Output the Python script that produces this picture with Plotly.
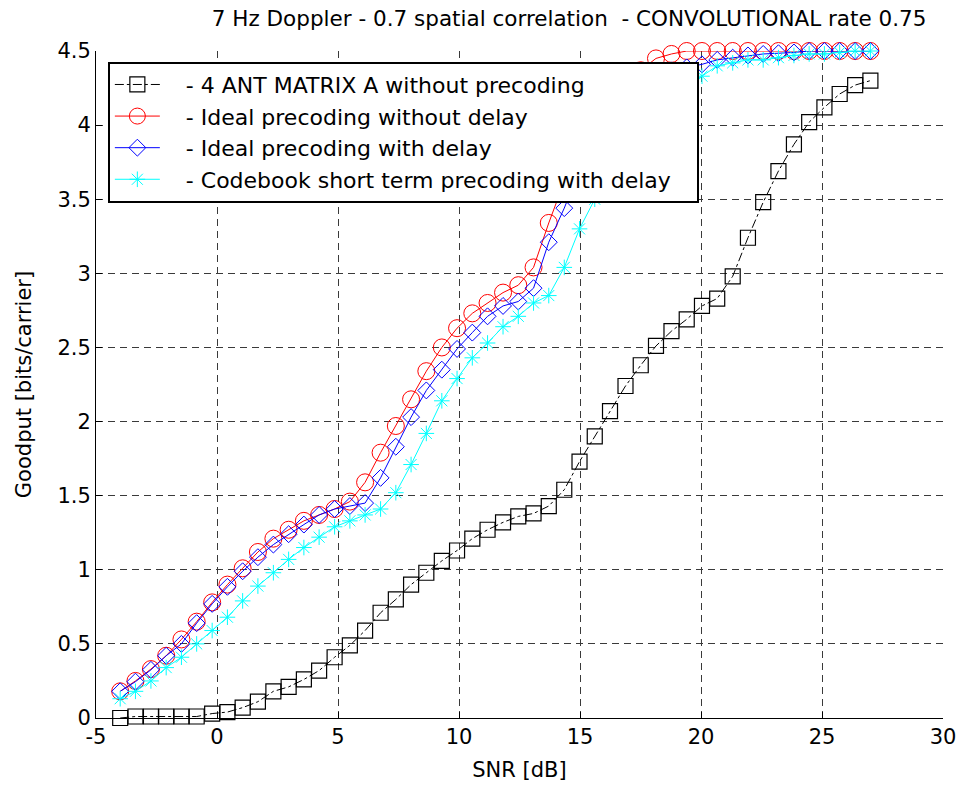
import plotly.graph_objects as go

# SNR values [dB]
snr = [-4.00, -3.37, -2.73, -2.10, -1.47, -0.84, -0.20, 0.43, 1.06, 1.69,
       2.33, 2.96, 3.59, 4.22, 4.86, 5.49, 6.12, 6.76, 7.39, 8.02,
       8.65, 9.29, 9.92, 10.55, 11.18, 11.82, 12.45, 13.08, 13.71, 14.35,
       14.98, 15.61, 16.24, 16.88, 17.51, 18.14, 18.78, 19.41, 20.04, 20.67,
       21.31, 21.94, 22.57, 23.20, 23.84, 24.47, 25.10, 25.73, 26.37, 27.00]

ant4_no_precoding = [0.00, 0.01, 0.01, 0.01, 0.01, 0.01, 0.03, 0.04, 0.07, 0.11,
                     0.18, 0.21, 0.26, 0.32, 0.41, 0.49, 0.59, 0.71, 0.80, 0.90,
                     0.98, 1.06, 1.13, 1.21, 1.27, 1.32, 1.36, 1.38, 1.43, 1.54,
                     1.73, 1.90, 2.07, 2.24, 2.38, 2.51, 2.61, 2.69, 2.78, 2.83,
                     2.98, 3.24, 3.48, 3.69, 3.87, 4.02, 4.12, 4.21, 4.27, 4.30]

ideal_no_delay = [0.18, 0.25, 0.33, 0.42, 0.53, 0.65, 0.78, 0.90, 1.01, 1.12,
                  1.21, 1.27, 1.33, 1.37, 1.41, 1.46, 1.59, 1.79, 1.97, 2.15,
                  2.34, 2.50, 2.63, 2.73, 2.80, 2.87, 2.92, 3.04, 3.34, 3.62,
                  3.88, 4.07, 4.20, 4.30, 4.37, 4.45, 4.48, 4.50, 4.50, 4.50,
                  4.50, 4.50, 4.50, 4.50, 4.50, 4.50, 4.50, 4.50, 4.50, 4.50]

ideal_delay = [0.18, 0.245, 0.325, 0.42, 0.50, 0.64, 0.77, 0.885, 0.99, 1.085,
               1.17, 1.24, 1.305, 1.37, 1.41, 1.43, 1.45, 1.62, 1.83, 2.03,
               2.21, 2.35, 2.49, 2.60, 2.71, 2.78, 2.81, 2.90, 3.21, 3.44,
               3.70, 3.92, 4.08, 4.20, 4.28, 4.33, 4.37, 4.39, 4.41, 4.44,
               4.455, 4.47, 4.48, 4.485, 4.49, 4.50, 4.50, 4.50, 4.50, 4.50]

codebook_delay = [0.13, 0.18, 0.25, 0.34, 0.41, 0.50, 0.59, 0.68, 0.79, 0.89,
                  0.98, 1.07, 1.15, 1.22, 1.29, 1.33, 1.37, 1.41, 1.52, 1.71,
                  1.92, 2.14, 2.29, 2.43, 2.53, 2.64, 2.71, 2.80, 2.85, 3.04,
                  3.30, 3.50, 3.70, 3.88, 4.02, 4.13, 4.22, 4.28, 4.33, 4.40,
                  4.42, 4.44, 4.44, 4.455, 4.47, 4.48, 4.48, 4.49, 4.50, 4.50]

names = ["- 4 ANT MATRIX A without precoding",
         "- Ideal precoding without delay",
         "- Ideal precoding with delay",
         "- Codebook short term precoding with delay"]

x_ticks = [-5, 0, 5, 10, 15, 20, 25, 30]
y_ticks = [0, 0.5, 1, 1.5, 2, 2.5, 3, 3.5, 4, 4.5]

FONT = "DejaVu Sans, Liberation Sans, Arial, sans-serif"
PAD = "   "
TAIL = "   "

fig = go.Figure()
fig.add_trace(go.Scatter(
    x=snr, y=ant4_no_precoding, name=PAD + names[0], mode="lines+markers",
    line=dict(color="black", width=1, dash="dashdot"),
    marker=dict(symbol="square-open", size=15, color="black", line=dict(width=1.2)),
    cliponaxis=False))
fig.add_trace(go.Scatter(
    x=snr, y=ideal_no_delay, name=PAD + names[1], mode="lines+markers",
    line=dict(color="#ff0000", width=1),
    marker=dict(symbol="circle-open", size=17, color="#ff0000", line=dict(width=1)),
    cliponaxis=False))
fig.add_trace(go.Scatter(
    x=snr, y=ideal_delay, name=PAD + names[2], mode="lines+markers",
    line=dict(color="#0000ff", width=1),
    marker=dict(symbol="diamond-open", size=13, color="#0000ff", line=dict(width=1)),
    cliponaxis=False))
fig.add_trace(go.Scatter(
    x=snr, y=codebook_delay, name=PAD + names[3] + TAIL, mode="lines+markers",
    line=dict(color="#00ffff", width=1),
    marker=dict(symbol="asterisk-open", size=13, color="#00ffff", line=dict(width=1, color="#00ffff")),
    cliponaxis=False))

grid = dict(showgrid=True, gridcolor="#3a3a3a", gridwidth=1, griddash="7px,5px")

fig.update_layout(
    width=958, height=790,
    margin=dict(l=96, r=15, t=51, b=72, autoexpand=False),
    paper_bgcolor="white", plot_bgcolor="white",
    font=dict(family=FONT, color="black", size=21),
    title=dict(text="7 Hz Doppler - 0.7 spatial correlation  - CONVOLUTIONAL rate 0.75",
               x=0.594, xanchor="center", y=0.977, yanchor="middle",
               font=dict(size=21.5, family=FONT, color="black")),
    xaxis=dict(range=[-5, 30], tickvals=x_ticks, ticktext=[str(v) for v in x_ticks],
               ticks="inside", ticklen=6, tickcolor="black", showline=True,
               linecolor="black", linewidth=1, zeroline=False, automargin=False,
               tickfont=dict(size=21), title=dict(text="SNR [dB]", font=dict(size=21), standoff=14),
               **grid),
    yaxis=dict(range=[0, 4.5], tickvals=y_ticks, ticktext=[("%g" % v) for v in y_ticks],
               ticks="inside", ticklen=6, tickcolor="black", showline=True,
               linecolor="black", linewidth=1, zeroline=False, automargin=False,
               tickfont=dict(size=21), title=dict(text="Goodput [bits/carrier]", font=dict(size=21), standoff=20),
               **grid),
    xaxis2=dict(overlaying="x", side="top", anchor="y", range=[-5, 30], tickvals=x_ticks,
                ticks="inside", ticklen=6, tickcolor="black", showticklabels=False,
                showgrid=False, showline=False, zeroline=False, automargin=False),
    yaxis2=dict(overlaying="y", side="right", anchor="x", range=[0, 4.5], tickvals=y_ticks,
                ticks="inside", ticklen=6, tickcolor="black", showticklabels=False,
                showgrid=False, showline=False, zeroline=False, automargin=False),
    legend=dict(x=0.014, y=0.984, xanchor="left", yanchor="top",
                bgcolor="white", bordercolor="black", borderwidth=2,
                font=dict(size=22, family=FONT), itemwidth=45,
                tracegroupgap=0),
    showlegend=True,
)

fig.write_html("out.html", config={"displayModeBar": False},
               post_script="document.body.style.margin='0px';")
